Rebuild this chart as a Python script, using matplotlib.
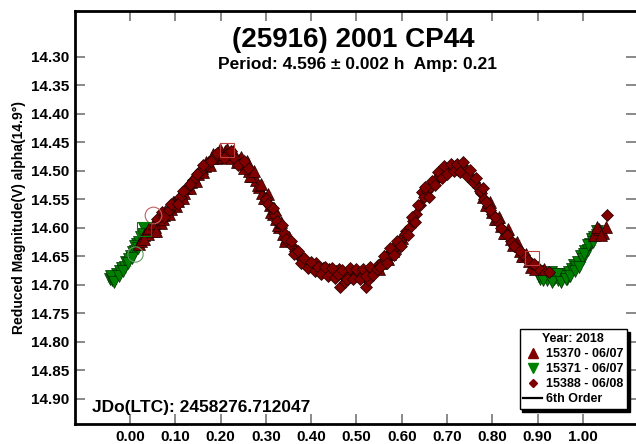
import matplotlib
matplotlib.use("Agg")
import matplotlib.pyplot as plt
from matplotlib.lines import Line2D

plt.rcParams['font.family'] = ['Liberation Sans', 'DejaVu Sans']
plt.rcParams['font.weight'] = 'bold'

title = "(25916) 2001 CP44"
subtitle = "Period: 4.596 \u00b1 0.002 h  Amp: 0.21"
ylabel = "Reduced Magnitude(V) alpha(14.9\u00b0)"
jd_text = "JDo(LTC): 2458276.712047"
legend_title = "Year: 2018"
series_names = ["15370 - 06/07", "15371 - 06/07", "15388 - 06/08"]
fit_name = "6th Order"

xticks = [0.00, 0.10, 0.20, 0.30, 0.40, 0.50, 0.60, 0.70, 0.80, 0.90, 1.00]
yticks = [14.30, 14.35, 14.40, 14.45, 14.50, 14.55, 14.60, 14.65, 14.70,
          14.75, 14.80, 14.85, 14.90]

# 6th order fit curve (phase, reduced mag)
fit_phase = [-0.045, -0.03, -0.02, 0.00, 0.02, 0.04, 0.06, 0.08, 0.10, 0.12,
             0.14, 0.16, 0.18, 0.20, 0.22, 0.24, 0.26, 0.28, 0.30, 0.32,
             0.34, 0.36, 0.38, 0.40, 0.42, 0.44, 0.46, 0.48, 0.50, 0.52,
             0.54, 0.56, 0.58, 0.60, 0.62, 0.64, 0.66, 0.68, 0.70, 0.72,
             0.74, 0.76, 0.78, 0.80, 0.82, 0.84, 0.86, 0.88, 0.90, 0.92,
             0.94, 0.96, 0.98, 1.00, 1.02, 1.04]
fit_mag = [14.692, 14.684, 14.675, 14.655, 14.632, 14.612, 14.595, 14.575, 14.555, 14.536,
           14.515, 14.497, 14.481, 14.470, 14.468, 14.478, 14.497, 14.520, 14.548, 14.580,
           14.612, 14.637, 14.655, 14.665, 14.671, 14.675, 14.678, 14.680, 14.680, 14.677,
           14.670, 14.658, 14.642, 14.620, 14.595, 14.562, 14.532, 14.510, 14.499, 14.496,
           14.500, 14.518, 14.545, 14.572, 14.598, 14.620, 14.640, 14.658, 14.672, 14.681,
           14.685, 14.683, 14.672, 14.652, 14.628, 14.605]

# 15371 (green, down triangles)
s71_phase = [-0.045, -0.040, -0.037, -0.032, -0.028, -0.022, -0.018, -0.012, -0.008, -0.003,
             0.002, 0.006, 0.010, 0.015, 0.020, 0.025, 0.030,
             -0.042, -0.035, -0.025, -0.015, -0.005, 0.004, 0.012, 0.018, 0.028,
             0.900, 0.905, 0.910, 0.915, 0.920, 0.925, 0.930, 0.935, 0.940, 0.945,
             0.950, 0.955, 0.960, 0.965, 0.970, 0.975, 0.980, 0.985, 0.990, 0.995,
             1.000, 1.005, 1.010, 1.015, 1.020, 1.025, 1.030,
             0.902, 0.912, 0.922, 0.932, 0.942, 0.952, 0.962, 0.972, 0.982, 0.992,
             1.002, 1.012, 1.022, 1.032]
s71_mag = [14.690, 14.692, 14.686, 14.688, 14.680, 14.676, 14.670, 14.668, 14.660, 14.655,
           14.650, 14.642, 14.640, 14.628, 14.625, 14.615, 14.600,
           14.685, 14.694, 14.684, 14.675, 14.662, 14.652, 14.632, 14.635, 14.610,
           14.676, 14.690, 14.680, 14.685, 14.692, 14.684, 14.678, 14.690, 14.686, 14.692,
           14.688, 14.680, 14.684, 14.690, 14.678, 14.672, 14.665, 14.668, 14.660, 14.650,
           14.655, 14.640, 14.638, 14.628, 14.620, 14.615, 14.605,
           14.685, 14.692, 14.680, 14.694, 14.680, 14.695, 14.690, 14.684, 14.675, 14.668,
           14.645, 14.630, 14.625, 14.612]

# 15370 (dark red, up triangles)
s70_phase = [0.020, 0.025, 0.030, 0.035, 0.040, 0.045, 0.050, 0.055, 0.060, 0.068,
             0.075, 0.082, 0.090, 0.098, 0.105, 0.112, 0.120, 0.128, 0.135, 0.142,
             0.150, 0.158, 0.165, 0.172, 0.180, 0.188, 0.195, 0.202, 0.210, 0.218,
             0.225, 0.232, 0.240, 0.248, 0.255, 0.262, 0.270, 0.278, 0.285, 0.292,
             0.300, 0.308, 0.315, 0.322, 0.330, 0.338, 0.345,
             0.032, 0.042, 0.052, 0.058, 0.064, 0.072, 0.078, 0.086, 0.094, 0.102,
             0.108, 0.116, 0.124, 0.132, 0.138, 0.146, 0.154, 0.162, 0.168, 0.176,
             0.184, 0.192, 0.198, 0.206, 0.214, 0.222, 0.228, 0.236, 0.244, 0.252,
             0.258, 0.266, 0.274, 0.282, 0.290, 0.296, 0.304, 0.312, 0.318, 0.326,
             0.334, 0.342, 0.350,
             0.545, 0.555, 0.565, 0.575, 0.585, 0.595,
             0.550, 0.560, 0.570, 0.580, 0.590, 0.600,
             0.780, 0.790, 0.800, 0.810, 0.820, 0.830, 0.840, 0.850, 0.860, 0.870,
             0.880, 0.890, 0.900, 0.915,
             0.785, 0.795, 0.805, 0.815, 0.825, 0.835, 0.845, 0.855, 0.865, 0.875,
             0.885, 0.895,
             1.025, 1.035, 1.045, 1.050, 1.030, 1.040]
s70_mag = [14.628, 14.622, 14.612, 14.608, 14.610, 14.600, 14.605, 14.598, 14.590, 14.592,
           14.578, 14.570, 14.566, 14.555, 14.552, 14.540, 14.538, 14.525, 14.520, 14.512,
           14.505, 14.495, 14.492, 14.485, 14.478, 14.472, 14.468, 14.470, 14.465, 14.468,
           14.470, 14.476, 14.480, 14.485, 14.490, 14.500, 14.508, 14.515, 14.528, 14.538,
           14.548, 14.560, 14.575, 14.585, 14.598, 14.610, 14.618,
           14.620, 14.600, 14.592, 14.605, 14.582, 14.585, 14.570, 14.575, 14.555, 14.562,
           14.545, 14.548, 14.530, 14.530, 14.512, 14.518, 14.498, 14.502, 14.485, 14.490,
           14.470, 14.478, 14.462, 14.475, 14.462, 14.478, 14.465, 14.485, 14.475, 14.495,
           14.482, 14.508, 14.500, 14.525, 14.522, 14.548, 14.540, 14.572, 14.565, 14.595,
           14.590, 14.622, 14.615,
           14.668, 14.662, 14.652, 14.645, 14.635, 14.622,
           14.672, 14.650, 14.655, 14.640, 14.628, 14.618,
           14.545, 14.558, 14.572, 14.585, 14.596, 14.608, 14.620, 14.628, 14.640, 14.650,
           14.658, 14.665, 14.668, 14.672,
           14.560, 14.555, 14.585, 14.580, 14.608, 14.602, 14.630, 14.625, 14.650, 14.645,
           14.668, 14.672,
           14.612, 14.602, 14.608, 14.598, 14.598, 14.612]

# 15388 (dark red, diamonds)
s88_phase = [0.060, 0.070, 0.085, 0.095, 0.110, 0.125, 0.140, 0.155, 0.170, 0.185,
             0.200, 0.215, 0.230, 0.245, 0.260,
             0.075, 0.090, 0.105, 0.118, 0.132, 0.148, 0.162, 0.178, 0.192, 0.208,
             0.222, 0.238, 0.252,
             0.300, 0.310, 0.320, 0.330, 0.340, 0.350, 0.358, 0.365, 0.372, 0.380,
             0.388, 0.395, 0.402, 0.410, 0.418, 0.425, 0.432, 0.440, 0.448, 0.455,
             0.462, 0.463, 0.470, 0.475, 0.480, 0.488, 0.495, 0.502, 0.510, 0.518,
             0.520, 0.525, 0.532, 0.540, 0.548, 0.556, 0.562, 0.570, 0.578, 0.586,
             0.594, 0.602, 0.610, 0.618, 0.625, 0.632, 0.640, 0.644, 0.648, 0.655,
             0.660, 0.662, 0.670, 0.677, 0.684, 0.690, 0.697, 0.704, 0.711, 0.718,
             0.725, 0.732, 0.740, 0.747, 0.754, 0.760, 0.768, 0.775, 0.782, 0.790,
             0.800, 0.812, 0.825, 0.840, 0.855, 0.870, 0.885, 0.900, 0.925, 1.052,
             0.305, 0.315, 0.325, 0.335, 0.345, 0.355, 0.362, 0.370, 0.378, 0.385,
             0.392, 0.400, 0.408, 0.415, 0.422, 0.430, 0.438, 0.445, 0.452, 0.460,
             0.468, 0.478, 0.485, 0.492, 0.500, 0.507, 0.515, 0.522, 0.530, 0.537,
             0.545, 0.552, 0.560, 0.567, 0.575, 0.582, 0.590, 0.598, 0.606, 0.614,
             0.622, 0.629, 0.636, 0.651, 0.666, 0.674, 0.681, 0.688, 0.694, 0.700,
             0.708, 0.715, 0.722, 0.729, 0.736, 0.744, 0.750, 0.757, 0.764, 0.772,
             0.779, 0.786, 0.795, 0.806, 0.818, 0.832, 0.848, 0.862, 0.878, 0.892]
s88_mag = [14.585, 14.572, 14.568, 14.560, 14.545, 14.530, 14.515, 14.500, 14.488, 14.478,
           14.472, 14.470, 14.478, 14.488, 14.495,
           14.580, 14.558, 14.558, 14.535, 14.522, 14.505, 14.490, 14.482, 14.468, 14.478,
           14.465, 14.490, 14.482,
           14.550, 14.562, 14.578, 14.592, 14.608, 14.625, 14.632, 14.640, 14.650, 14.655,
           14.660, 14.665, 14.668, 14.662, 14.675, 14.670, 14.678, 14.672, 14.682, 14.676,
           14.672, 14.704, 14.685, 14.695, 14.680, 14.676, 14.686, 14.680, 14.678, 14.688,
           14.703, 14.692, 14.675, 14.672, 14.665, 14.660, 14.655, 14.648, 14.640, 14.632,
           14.625, 14.615, 14.605, 14.598, 14.588, 14.575, 14.560, 14.537, 14.545, 14.535,
           14.546, 14.528, 14.520, 14.512, 14.506, 14.500, 14.498, 14.500, 14.495, 14.492,
           14.498, 14.490, 14.500, 14.505, 14.512, 14.520, 14.528, 14.538, 14.550, 14.562,
           14.575, 14.590, 14.605, 14.622, 14.635, 14.648, 14.662, 14.670, 14.678, 14.578,
           14.558, 14.565, 14.588, 14.595, 14.620, 14.622, 14.645, 14.640, 14.662, 14.652,
           14.670, 14.660, 14.675, 14.668, 14.680, 14.668, 14.684, 14.670, 14.688, 14.680,
           14.674, 14.690, 14.670, 14.690, 14.672, 14.690, 14.672, 14.685, 14.668, 14.682,
           14.672, 14.668, 14.650, 14.662, 14.635, 14.648, 14.622, 14.632, 14.610, 14.612,
           14.580, 14.590, 14.560, 14.528, 14.518, 14.525, 14.502, 14.512, 14.492, 14.505,
           14.488, 14.500, 14.488, 14.502, 14.484, 14.508, 14.498, 14.520, 14.512, 14.535,
           14.530, 14.555, 14.568, 14.580, 14.600, 14.612, 14.632, 14.640, 14.658, 14.664]

err = 0.004

# highlighted (open) points
hl_circle_red = (0.050, 14.578)
hl_circle_green = (0.012, 14.645)
hl_square_green = (0.030, 14.601)
hl_square_red = [(0.215, 14.463), (0.888, 14.652)]

red = '#800000'
green = '#008000'
ecol = '#e09a9a'

fig = plt.figure(figsize=(6.36, 4.44), dpi=100)
ax = fig.add_axes([75/636, 20/444, 561/636, 413/444])

ax.plot(fit_phase, fit_mag, color='black', lw=2.2, zorder=2)
ax.errorbar(s71_phase, s71_mag, yerr=err, fmt='v', ms=8, mfc=green, mec='#003000',
            mew=0.5, ecolor='#80c080', elinewidth=0.8, capsize=2.5, zorder=3)
ax.errorbar(s70_phase, s70_mag, yerr=err, fmt='^', ms=8, mfc=red, mec='#200000',
            mew=0.5, ecolor=ecol, elinewidth=0.8, capsize=2.5, zorder=3)
ax.errorbar(s88_phase, s88_mag, yerr=err, fmt='D', ms=6, mfc=red, mec='#200000',
            mew=0.5, ecolor=ecol, elinewidth=0.8, capsize=2.5, zorder=3)

ax.plot(*hl_circle_red, 'o', ms=12, mfc='none', mec='#c06060', mew=0.8, zorder=5)
ax.plot(*hl_circle_green, 'o', ms=11, mfc='none', mec='#60a060', mew=0.8, zorder=5)
ax.plot(*hl_square_green, 's', ms=10, mfc='none', mec=green, mew=0.8, zorder=5)
for p in hl_square_red:
    ax.plot(*p, 's', ms=10, mfc='none', mec='#c04040', mew=0.8, zorder=5)

ax.set_xlim(-0.1214, 1.1170)
ax.set_ylim(14.9439, 14.2193)
ax.set_xticks(xticks)
ax.set_xticklabels([f"{v:.2f}" for v in xticks])
ax.set_yticks(yticks)
ax.set_yticklabels([f"{v:.2f}" for v in yticks])
ax.tick_params(axis='both', direction='in', length=7, width=1.3, color='#808080',
               labelsize=11, top=True, right=True, pad=4)
for lab in ax.get_xticklabels() + ax.get_yticklabels():
    lab.set_fontweight('bold')
for s in ['left', 'bottom', 'top']:
    ax.spines[s].set_linewidth(2)
ax.spines['right'].set_visible(False)

ax.set_ylabel(ylabel, fontsize=10, fontweight='bold', labelpad=4)

fig.text(353/636, 1 - 40/444, title, ha='center', va='center', fontsize=20, fontweight='bold')
fig.text(357/636, 1 - 65/444, subtitle, ha='center', va='center', fontsize=12.5, fontweight='bold')
ax.text((92-75)/561, (424-407)/413, jd_text, transform=ax.transAxes, ha='left', va='center',
        fontsize=12.5, fontweight='bold')

handles = [Line2D([], [], marker='^', ls='none', ms=6.5, mfc=red, mec=red),
           Line2D([], [], marker='v', ls='none', ms=6.5, mfc=green, mec=green),
           Line2D([], [], marker='D', ls='none', ms=4.5, mfc=red, mec=red),
           Line2D([], [], color='black', lw=1.6)]
leg = ax.legend(handles, series_names + [fit_name], title=legend_title,
                loc='lower right', bbox_to_anchor=((627-75)/561, (424-409)/413),
                fontsize=9, title_fontproperties={'weight': 'bold', 'size': 9},
                frameon=True, fancybox=False, shadow={'color': 'black', 'alpha': 1},
                edgecolor='black', borderpad=0.3, labelspacing=0.25, handlelength=1.5,
                handletextpad=0.3, borderaxespad=0)
leg.get_frame().set_linewidth(1.0)
for t in leg.get_texts():
    t.set_fontweight('bold')

fig.savefig('out.png', dpi=100)
